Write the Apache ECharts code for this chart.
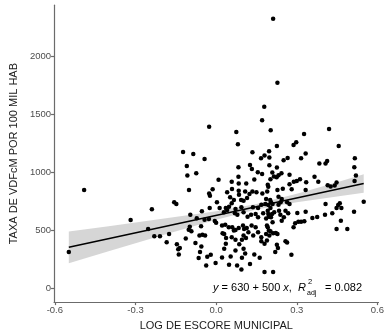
<!DOCTYPE html>
<html>
<head>
<meta charset="utf-8">
<script src="https://cdn.jsdelivr.net/npm/echarts@6/dist/echarts.min.js"></script>
<style>
html,body{margin:0;padding:0;background:#fff;}
#chart{width:387px;height:336px;}
</style>
</head>
<body>
<div id="chart"></div>
<script>
// Log municipal score (x) for each municipality
const logScore = [
-0.548,-0.491,-0.318,-0.253,-0.239,-0.230,-0.209,-0.184,-0.175,-0.156,
-0.148,-0.146,-0.135,-0.141,-0.139,-0.123,-0.109,-0.107,-0.101,-0.085,
-0.074,-0.043,0.009,-0.013,-0.026,-0.023,0.003,-0.024,-0.053,-0.043,
-0.027,-0.005,0.000,-0.098,-0.102,-0.092,-0.056,-0.062,-0.051,-0.041,
-0.113,-0.077,-0.055,-0.060,-0.020,-0.033,-0.065,0.022,-0.002,-0.037,
0.212,0.228,0.179,0.171,-0.026,0.075,0.203,0.420,0.327,0.081,
0.226,0.288,0.298,0.456,0.135,0.197,0.180,0.167,0.198,0.126,
0.133,0.083,0.198,0.155,0.171,0.083,0.058,0.084,0.112,0.142,
0.192,0.194,0.202,0.333,0.316,0.251,0.266,0.384,0.407,0.413,
0.516,0.514,0.209,0.243,0.520,0.273,0.215,0.225,0.232,0.289,
0.300,0.312,0.335,0.366,0.380,0.273,0.415,0.426,0.441,0.448,
0.515,0.226,0.013,0.084,0.108,0.093,0.102,0.115,0.052,0.066,
0.058,0.036,0.029,0.041,0.048,0.072,0.070,0.079,0.124,0.135,
0.150,0.172,0.190,0.186,0.137,0.156,0.168,0.183,0.194,0.202,
0.094,0.102,0.117,0.130,0.147,0.156,0.175,0.194,0.186,-0.096,
-0.072,0.022,0.034,0.047,0.024,0.030,0.037,0.060,0.066,0.072,
0.084,0.058,0.072,0.100,0.104,0.114,0.120,0.102,0.111,0.096,
0.132,0.147,0.156,0.138,0.168,0.186,0.192,0.202,0.168,0.180,
0.086,0.102,0.072,0.036,0.030,0.054,0.096,0.108,0.142,0.162,
0.048,0.078,0.126,0.094,0.180,0.228,0.248,0.281,0.333,0.232,
0.244,0.240,0.201,0.204,0.210,0.232,0.264,0.273,0.407,0.460,
0.454,0.466,0.448,0.549,0.192,0.208,0.216,0.196,0.204,0.234,
0.239,0.258,0.268,0.302,0.333,0.405,0.432,0.513,0.358,0.376,
0.464,0.210,0.244,0.252,0.294,0.306,0.316,0.328,0.288,0.448,
0.488,0.189,0.196,0.212,0.222,0.228,0.198,0.258,0.264,0.189,
0.226,0.230,0.220,0.280,0.212,0.041,0.059,0.085
];
// Rate of VDFcM per 100 thousand inhabitants (y)
const taxa = [
315,849,591,514,683,452,452,400,471,743,
729,383,351,340,294,1177,1057,975,849,1160,
994,1117,937,855,820,800,743,694,666,594,
600,583,568,534,508,495,537,457,463,457,
431,392,363,315,291,274,263,268,220,200,
2325,1774,1566,1451,1394,1348,1363,1374,1331,1243,
1228,1237,1260,1228,1174,1183,1146,1123,1129,1065,
1031,1046,1063,1003,988,963,920,906,906,940,
894,877,943,1163,1123,1106,1125,1077,1077,1100,
1123,1046,1000,994,975,980,966,960,977,920,
928,943,917,963,920,900,891,880,889,914,
926,1043,694,843,837,763,757,780,786,763,
735,694,657,677,705,686,649,637,814,837,
831,820,837,771,700,694,723,729,720,694,
700,657,620,637,643,614,649,643,603,637,
606,543,551,529,477,471,437,529,500,506,
523,443,420,543,514,523,486,457,437,420,
543,529,486,457,443,471,529,495,409,386,
383,343,328,386,343,277,266,303,294,266,
206,200,212,165,143,849,860,855,849,791,
771,743,763,743,729,723,743,729,729,735,
720,694,694,748,671,643,657,620,614,671,
637,671,649,651,663,637,649,663,609,617,
585,572,585,614,563,577,577,580,529,514,
514,543,500,477,480,471,457,409,397,414,
377,349,315,291,143,829,857,808
];
// Fitted line y = 630 + 500 x (read at the ends of the data range)
const fitX = [-0.548, 0.549];
const fitY = [356, 905];
// Confidence band
const bandX = [-0.548, -0.4, -0.2, 0.0, 0.15, 0.3, 0.45, 0.549];
const bandLow = [219, 322, 459, 593, 682, 743, 793, 825];
const bandHigh = [491, 538, 601, 667, 728, 817, 917, 985];
// Tick labels
const xTicks = [-0.6, -0.3, 0.0, 0.3, 0.6];
const yTicks = [0, 500, 1000, 1500, 2000];

const points = logScore.map((x, i) => [x, taxa[i]]);
const fitData = fitX.map((x, i) => [x, fitY[i]]);
const bandData = bandX.map((x, i) => [x, bandLow[i], bandHigh[i]]);

const chart = echarts.init(document.getElementById('chart'), null, {renderer: 'canvas'});
const axisLineStyle = {color: '#6b6b6b', width: 1.2};
chart.setOption({
  backgroundColor: '#ffffff',
  animation: false,
  grid: {left: 45.8, right: 5.9, top: 5.2, bottom: 32.5, containLabel: false},
  xAxis: {
    type: 'value', min: -0.603, max: 0.604,
    name: 'LOG DE ESCORE MUNICIPAL', nameLocation: 'middle', nameGap: 14,
    nameTextStyle: {color: '#1a1a1a', fontSize: 11, fontFamily: 'Liberation Sans', verticalAlign: 'top'},
    axisLine: {show: true, onZero: false, lineStyle: axisLineStyle},
    axisTick: {show: true, length: 3, customValues: xTicks, lineStyle: axisLineStyle},
    axisLabel: {customValues: xTicks, color: '#4d4d4d', fontSize: 9.5, fontFamily: 'Liberation Sans', margin: 3,
      formatter: v => Number(v).toFixed(1)},
    splitLine: {show: false}
  },
  yAxis: {
    type: 'value', min: -116, max: 2441,
    name: 'TAXA DE VDFcM POR 100 MIL HAB', nameLocation: 'middle', nameGap: 27,
    nameTextStyle: {color: '#1a1a1a', fontSize: 11, fontFamily: 'Liberation Sans'},
    axisLine: {show: true, onZero: false, lineStyle: axisLineStyle},
    axisTick: {show: true, length: 3, customValues: yTicks, lineStyle: axisLineStyle},
    axisLabel: {customValues: yTicks, color: '#4d4d4d', fontSize: 9.5, fontFamily: 'Liberation Sans', margin: 3,
      formatter: v => String(v)},
    splitLine: {show: false}
  },
  series: [
    {
      type: 'scatter', data: points, symbol: 'circle', symbolSize: 4.5,
      itemStyle: {color: '#000000', opacity: 1}, silent: true
    },
    {
      type: 'custom', data: bandData, silent: true,
      renderItem: function (params, api) {
        if (params.dataIndex !== 0) return null;
        const upper = bandData.map(d => api.coord([d[0], d[2]]));
        const lower = bandData.slice().reverse().map(d => api.coord([d[0], d[1]]));
        return {
          type: 'polygon',
          shape: {points: upper.concat(lower)},
          style: {fill: 'rgba(153,153,153,0.4)', stroke: null}
        };
      }
    },
    {
      type: 'line', data: fitData, symbol: 'none', silent: true,
      lineStyle: {color: '#000000', width: 1.5}
    }
  ],
  graphic: [
    {type: 'text', left: 213, top: 282, silent: true,
      style: {text: '{i|y} = 630 + 500 {i|x},  {i|R}', fontSize: 11, fontFamily: 'Liberation Sans', fill: '#000',
        rich: {i: {fontStyle: 'italic', fontSize: 11, fontFamily: 'Liberation Sans', fill: '#000'}}}},
    {type: 'text', left: 308, top: 278, silent: true,
      style: {text: '2', fontSize: 7.5, fontFamily: 'Liberation Sans', fill: '#000'}},
    {type: 'text', left: 307, top: 290, silent: true,
      style: {text: 'adj', fontSize: 7, fontFamily: 'Liberation Sans', fill: '#000'}},
    {type: 'text', left: 325, top: 282, silent: true,
      style: {text: '= 0.082', fontSize: 11, fontFamily: 'Liberation Sans', fill: '#000'}}
  ]
});
</script>
</body>
</html>
